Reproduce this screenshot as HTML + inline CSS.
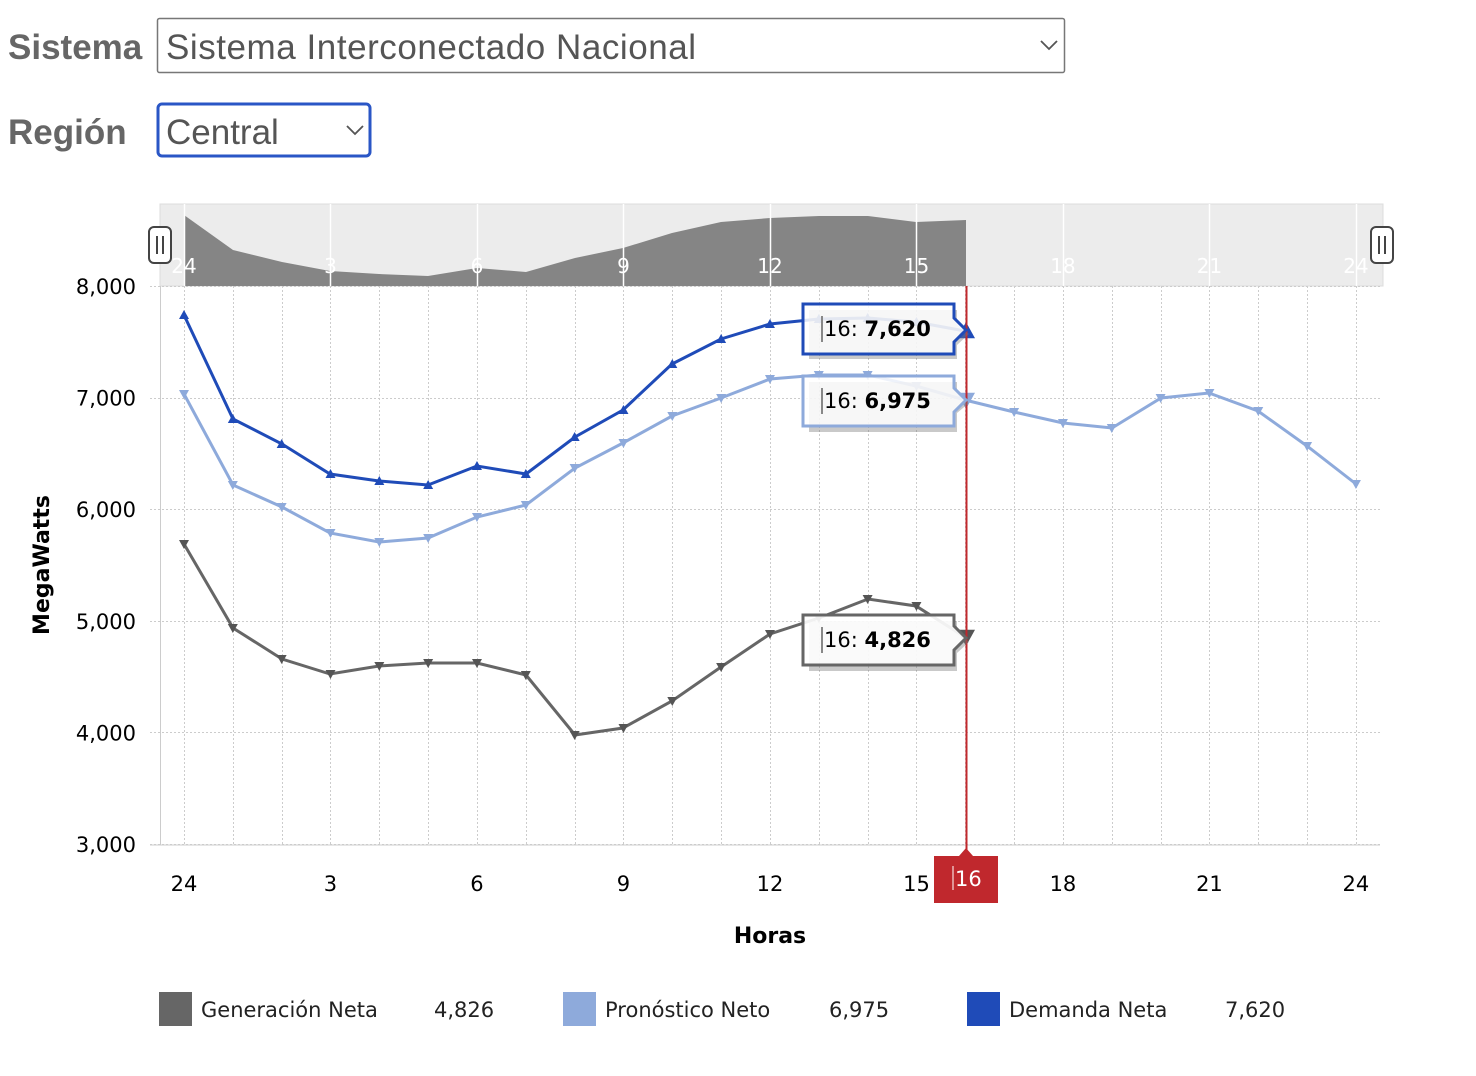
<!DOCTYPE html>
<html><head><meta charset="utf-8"><style>
html,body{margin:0;padding:0;background:#fff;width:1476px;height:1076px;overflow:hidden}
svg{display:block;font-family:"DejaVu Sans","Liberation Sans",sans-serif}
.lib{font-family:"Liberation Sans",sans-serif}
</style></head><body>
<svg id="s" width="1476" height="1076" viewBox="0 0 1476 1076" xmlns="http://www.w3.org/2000/svg">
<g class="lib">
<text x="8" y="59" font-size="35" font-weight="bold" fill="#666">Sistema</text>
<rect x="157.5" y="18.5" width="907" height="54" fill="#fff" stroke="#777" stroke-width="1.5" rx="2"/>
<text x="166" y="59" font-size="35" fill="#555" textLength="530">Sistema Interconectado Nacional</text>
<polyline points="1041,41 1049,49 1057,41" fill="none" stroke="#555" stroke-width="1.8"/>
<text x="8" y="144" font-size="35" font-weight="bold" fill="#666">Región</text>
<rect x="158" y="104" width="212" height="52" fill="#fff" stroke="#2a56c6" stroke-width="3" rx="4"/>
<text x="166" y="144" font-size="35" fill="#555">Central</text>
<polyline points="347,126 355,134 363,126" fill="none" stroke="#555" stroke-width="1.8"/>
</g>

<rect x="160" y="204" width="1223" height="82" fill="#ececec" stroke="#ddd"/>
<polygon points="184,286 184,215 233,250 282,262 330,271 379,274 428,276 477,268 526,272 575,258 623,248 672,233 721,222 770,218 819,216 868,216 916,222 966,220 966,286" fill="#858585"/>
<g id="navgrid"></g>
<g id="navlab" font-size="20" fill="#fff" text-anchor="middle"></g>
<g fill="#fff" stroke="#444" stroke-width="2">
<rect x="149" y="227" width="22" height="36" rx="5"/>
<rect x="1371" y="227" width="22" height="36" rx="5"/>
</g>
<g stroke="#444" stroke-width="2"><line x1="157" y1="236" x2="157" y2="254"/><line x1="163" y1="236" x2="163" y2="254"/><line x1="1379" y1="236" x2="1379" y2="254"/><line x1="1385" y1="236" x2="1385" y2="254"/></g>

<g id="grid"></g>
<line x1="160.5" y1="286" x2="160.5" y2="845" stroke="#ccc"/>
<line x1="150" y1="845" x2="1380" y2="845" stroke="#ccc"/>
<g id="ylab" font-size="21" fill="#000" text-anchor="end"></g>
<g id="xlab" font-size="21" fill="#000" text-anchor="middle"></g>
<text transform="translate(49,565) rotate(-90)" font-size="22" font-weight="bold" text-anchor="middle">MegaWatts</text>
<text x="770" y="943" font-size="22" font-weight="bold" text-anchor="middle">Horas</text>

<polyline fill="none" stroke="#8eaadb" stroke-width="3" points="184,394 233,485 282,507 330,533 379,542 428,538 477,517 526,505 575,468 623,443 672,416 721,398 770,379 819,375 868,375 916,386 965,400 1014,412 1063,423 1112,428 1161,398 1209,393 1258,411 1307,446 1356,484"/>
<polyline fill="none" stroke="#1f4bb8" stroke-width="3" points="184,315 233,419 282,444 330,474 379,481 428,485 477,466 526,474 575,437 623,410 672,364 721,339 770,324 819,319 868,318 916,322 965,331"/>
<polyline fill="none" stroke="#666" stroke-width="3" points="184,544 233,628 282,659 330,674 379,666 428,663 477,663 526,675 575,735 623,728 672,701 721,667 770,634 819,618 868,599 916,606 965,637"/>
<g id="mk"></g>

<line x1="966.5" y1="286" x2="966.5" y2="856" stroke="#c0282d" stroke-width="2"/>
<polygon points="934,856 959,856 966,848 973,856 998,856 998,903 934,903" fill="#c0282d"/>
<line x1="953" y1="866" x2="953" y2="890" stroke="#fff" stroke-width="1"/>
<text x="955" y="886" font-size="21" fill="#fff">16</text>

<g font-size="21">
<path d="M806,307 H954 V320 L966,331 L954,342 V356 H806 Z" fill="#777" opacity=".4" transform="translate(3,3)"/>
<path d="M803,304 H954 V318 L966,330 L954,342 V354 H803 Z" fill="rgba(255,255,255,.85)" stroke="#1f4bb8" stroke-width="3"/>
<line x1="822" y1="316" x2="822" y2="342" stroke="#888" stroke-width="2"/>
<text x="824" y="336">16: <tspan font-weight="bold">7,620</tspan></text>
<path d="M806,379 H954 V390 L966,400 L954,410 V429 H806 Z" fill="#777" opacity=".4" transform="translate(3,3)"/>
<path d="M803,376 H954 V388 L966,400 L954,412 V426 H803 Z" fill="rgba(255,255,255,.85)" stroke="#8eaadb" stroke-width="3"/>
<line x1="822" y1="388" x2="822" y2="414" stroke="#888" stroke-width="2"/>
<text x="824" y="408">16: <tspan font-weight="bold">6,975</tspan></text>
<path d="M806,618 H954 V628 L966,639 L954,650 V668 H806 Z" fill="#777" opacity=".4" transform="translate(3,3)"/>
<path d="M803,615 H954 V626 L966,638 L954,650 V665 H803 Z" fill="rgba(255,255,255,.9)" stroke="#666" stroke-width="3"/>
<line x1="822" y1="627" x2="822" y2="653" stroke="#888" stroke-width="2"/>
<text x="824" y="647">16: <tspan font-weight="bold">4,826</tspan></text>
</g>

<g font-size="21" fill="#222">
<rect x="159" y="992" width="33" height="34" fill="#666"/><text x="201" y="1017">Generación Neta</text><text x="434" y="1017">4,826</text>
<rect x="563" y="992" width="33" height="34" fill="#8eaadb"/><text x="605" y="1017">Pronóstico Neto</text><text x="829" y="1017">6,975</text>
<rect x="967" y="992" width="33" height="34" fill="#1f4bb8"/><text x="1009" y="1017">Demanda Neta</text><text x="1225" y="1017">7,620</text>
</g>
<script>
var NS="http://www.w3.org/2000/svg";
function el(p,t,a,txt){var e=document.createElementNS(NS,t);for(var k in a)e.setAttribute(k,a[k]);if(txt!=null)e.textContent=txt;document.getElementById(p).appendChild(e);return e;}
function X(h){return 184+48.83*h;}
for(var h=0;h<=24;h++){var x=Math.round(X(h))+.5;
 el("grid","line",{x1:x,y1:286,x2:x,y2:845,stroke:"#ccc","stroke-dasharray":"2,2"});
 el("navgrid","line",{x1:x,y1:204,x2:x,y2:286,stroke:h%3==0?"#fff":"none","stroke-width":1.5});
 if(h%3==0){var l=h==0?"24":""+h;
  el("xlab","text",{x:X(h),y:891},l);
  el("navlab","text",{x:X(h),y:273},l);}
}
for(var v=3;v<=8;v++){var y=844-(v-3)*111.6;
 el("grid","line",{x1:150,y1:Math.round(y)+.5,x2:1380,y2:Math.round(y)+.5,stroke:"#ccc","stroke-dasharray":"2,2"});
 el("ylab","text",{x:136,y:y+8},v+",000");}
var D=[315,419,444,474,481,485,466,474,437,410,364,339,324,319,318,322];
var P=[394,485,507,533,542,538,517,505,468,443,416,398,379,375,375,386,400,412,423,428,398,393,411,446,484];
var G=[544,628,659,674,666,663,663,675,735,728,701,667,634,618,599,606];
function up(x,y,c,s){el("mk","polygon",{points:(x)+","+(y-s)+" "+(x-s)+","+(y+s*.8)+" "+(x+s)+","+(y+s*.8),fill:c});}
function dn(x,y,c,s){el("mk","polygon",{points:(x)+","+(y+s)+" "+(x-s)+","+(y-s*.8)+" "+(x+s)+","+(y-s*.8),fill:c});}
P.forEach(function(y,i){if(i!=16)dn(X(i),y,"#8eaadb",5);});
D.forEach(function(y,i){up(X(i),y,"#1f4bb8",5);});
G.forEach(function(y,i){dn(X(i),y,"#555",5);});
up(966,331,"#1f4bb8",9);dn(966,400,"#8eaadb",9);dn(966,637,"#555",9);
</script>
</svg>
</body></html>
